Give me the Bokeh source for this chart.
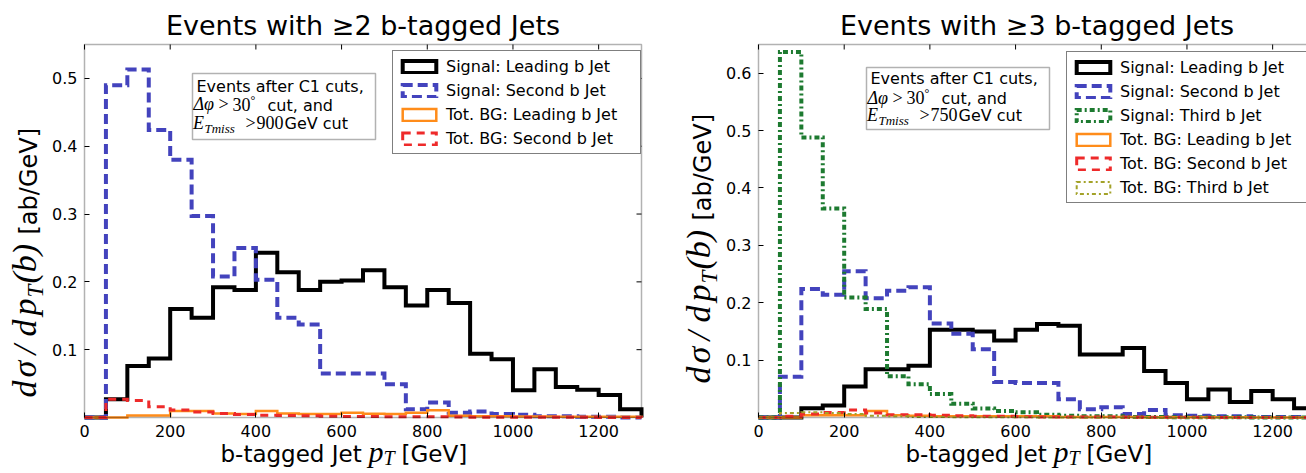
import numpy as np
from bokeh.embed import file_html
from bokeh.layouts import row
from bokeh.models import (BoxAnnotation, FixedTicker, Label, Legend, LegendItem,
                          LinearAxis, Range1d)
from bokeh.plotting import figure
from bokeh.resources import INLINE

# 50 GeV bins, 0 .. 1300 GeV
pt_edges = np.arange(0, 1301, 50)

# d(sigma)/d pT [ab/GeV] -- events with >= 2 b-tagged jets (E_Tmiss > 900 GeV)
sig_lead_2b = [0.0, 0.027, 0.076, 0.087, 0.160, 0.147, 0.192, 0.188, 0.243, 0.214,
               0.188, 0.200, 0.202, 0.217, 0.192, 0.165, 0.188, 0.169, 0.094, 0.086,
               0.040, 0.071, 0.045, 0.041, 0.033, 0.012]
sig_second_2b = [0.0, 0.490, 0.513, 0.424, 0.380, 0.297, 0.208, 0.250, 0.203, 0.147,
                 0.137, 0.065, 0.065, 0.065, 0.049, 0.012, 0.022, 0.007, 0.009, 0.005,
                 0.004, 0.002, 0.002, 0.001, 0.001, 0.0]
bg_lead_2b = [0.0, 0.0, 0.003, 0.003, 0.0096, 0.0096, 0.006, 0.005, 0.0096, 0.006,
              0.005, 0.005, 0.007, 0.0056, 0.005, 0.007, 0.0108, 0.0025, 0.002, 0.002,
              0.0015, 0.0015, 0.001, 0.001, 0.001, 0.001]
bg_second_2b = [0.0, 0.027, 0.025, 0.016, 0.011, 0.008, 0.006, 0.0045, 0.0035, 0.003,
                0.0025, 0.002, 0.0015, 0.0015, 0.001, 0.001, 0.001, 0.0008, 0.0005, 0.0005,
                0.0003, 0.0003, 0.0002, 0.0002, 0.0001, 0.0001]

# events with >= 3 b-tagged jets (E_Tmiss > 750 GeV)
sig_lead_3b = [0.0, 0.0, 0.016, 0.021, 0.054, 0.084, 0.084, 0.090, 0.153, 0.153,
               0.150, 0.134, 0.153, 0.163, 0.160, 0.110, 0.110, 0.121, 0.081, 0.060,
               0.032, 0.049, 0.027, 0.046, 0.032, 0.016]
sig_second_3b = [0.0, 0.071, 0.224, 0.214, 0.255, 0.208, 0.221, 0.227, 0.164, 0.146,
                 0.119, 0.062, 0.060, 0.060, 0.032, 0.0145, 0.018, 0.006, 0.013, 0.004,
                 0.003, 0.002, 0.002, 0.001, 0.001, 0.001]
sig_third_3b = [0.0, 0.637, 0.488, 0.364, 0.209, 0.189, 0.072, 0.058, 0.041, 0.024,
                0.0156, 0.0115, 0.009, 0.005, 0.003, 0.002, 0.002, 0.001, 0.001, 0.0005,
                0.0005, 0.0003, 0.0003, 0.0002, 0.0001, 0.0001]
bg_lead_3b = [0.0, 0.0, 0.004, 0.004, 0.004, 0.0115, 0.004, 0.003, 0.002, 0.002,
              0.002, 0.002, 0.002, 0.002, 0.001, 0.001, 0.001, 0.001, 0.0005, 0.0005,
              0.0005, 0.0003, 0.0003, 0.0002, 0.0002, 0.0001]
bg_second_3b = [0.0, 0.002, 0.006, 0.0085, 0.013, 0.008, 0.005, 0.005, 0.004, 0.003,
                0.002, 0.002, 0.0015, 0.001, 0.001, 0.001, 0.0008, 0.0005, 0.0005, 0.0003,
                0.0003, 0.0002, 0.0002, 0.0001, 0.0001, 0.0001]
bg_third_3b = [0.0, 0.008, 0.009, 0.008, 0.006, 0.003, 0.002, 0.001, 0.001, 0.0005,
               0.0005, 0.0003, 0.0003, 0.0002, 0.0002, 0.0001, 0.0001, 0.0001, 0.0, 0.0,
               0.0, 0.0, 0.0, 0.0, 0.0, 0.0]

x_ticks = [0, 200, 400, 600, 800, 1000, 1200]
y_ticks_2b = [0.1, 0.2, 0.3, 0.4, 0.5]
y_ticks_3b = [0.1, 0.2, 0.3, 0.4, 0.5, 0.6]
PT_MAX = 1300

SANS = "DejaVu Sans"
SERIF = "Liberation Serif"

# line styles: colour, width, dash
STYLE = {
    "sig_lead": ("#000000", 4, "solid"),
    "sig_second": ("#4343bd", 4, "10 5"),
    "sig_third": ("#1d7a30", 4, "5 3 2 3"),
    "bg_lead": ("#ff8c1a", 2.5, "solid"),
    "bg_second": ("#ee2a2a", 3, "8 6"),
    "bg_third": ("#a3a228", 2, "4 3 2 3"),
}

# page geometry (pixels): the axes box of each panel
FIG_H = 473
BOX_TOP, BOX_BOTTOM = 44, 417
BOX_W = 557
TICK = 5
# Label anchors sit a little above the drawn baseline; lift them by this many ems
BASELINE_LIFT = 0.37


def step_xy(edges, counts):
    xs = np.repeat(edges, 2)
    ys = np.concatenate([[0.0], np.repeat(np.asarray(counts, float), 2), [0.0]])
    return xs, ys


class Panel:
    """One histogram panel; the plot frame fills the whole figure and the axes
    box sits inside it, so every text can be placed without clipping."""

    def __init__(self, width, box_left, y_max, y_ticks, title):
        self.box_left = box_left
        kx = BOX_W / PT_MAX
        ky = (BOX_BOTTOM - BOX_TOP) / y_max
        p = figure(width=width, height=FIG_H,
                   x_range=Range1d(-box_left / kx, (width - box_left) / kx),
                   y_range=Range1d(-(FIG_H - BOX_BOTTOM) / ky, y_max + BOX_TOP / ky),
                   output_backend="svg", toolbar_location=None, min_border=0,
                   x_axis_location=None, y_axis_location=None, title_location=None,
                   outline_line_color=None, background_fill_color="white",
                   border_fill_color="white")
        p.grid.visible = False
        self.p = p

        for place, ticks in (("below", x_ticks), ("left", y_ticks)):
            ax = LinearAxis(fixed_location=0, ticker=FixedTicker(ticks=ticks))
            ax.axis_line_color = None
            ax.major_tick_in = TICK
            ax.major_tick_out = 0
            ax.major_tick_line_color = "black"
            ax.major_tick_line_width = 1
            ax.minor_tick_line_color = None
            ax.major_label_text_font = SANS
            ax.major_label_text_font_size = "16px"
            ax.major_label_text_color = "black"
            ax.major_label_standoff = 7
            p.add_layout(ax, place)

        # inward ticks on the top and right edges of the box
        ty, tx = TICK / ky, TICK / kx
        p.segment(x0=x_ticks, y0=[y_max] * len(x_ticks), x1=x_ticks,
                  y1=[y_max - ty] * len(x_ticks), line_color="black", line_width=1)
        p.segment(x0=[PT_MAX] * len(y_ticks), y0=y_ticks,
                  x1=[PT_MAX - tx] * len(y_ticks), y1=y_ticks,
                  line_color="black", line_width=1)
        # axes box
        p.add_layout(BoxAnnotation(left=0, right=PT_MAX, bottom=0, top=y_max,
                                   fill_color=None, fill_alpha=0,
                                   line_color="black", line_width=1.5, level="overlay"))
        self.label(BOX_W / 2, -9, title, SANS, 27, align="center")

    def label(self, dx, dy, text, font=SANS, size=16, style="normal", angle=0.0,
              align="left"):
        """Text at dx px right of the box's left edge, baseline dy px below its top."""
        x = self.box_left + dx
        y = FIG_H - BOX_TOP - dy
        if angle:
            x -= BASELINE_LIFT * size
        else:
            y += BASELINE_LIFT * size
        self.p.add_layout(Label(x=x, y=y, x_units="screen", y_units="screen", text=text,
                                text_font=font, text_font_size=f"{size}px",
                                text_font_style=style, text_color="black",
                                text_align=align, text_baseline="alphabetic",
                                angle=angle))

    def hists(self, series):
        for counts, key in series:
            color, w, dash = STYLE[key]
            xs, ys = step_xy(pt_edges, counts)
            self.p.line(xs, ys, line_color=color, line_width=w, line_dash=dash,
                        line_join="miter")

    def legend(self, entries, left, top, rows):
        items = []
        for text, key in entries:
            color, w, dash = STYLE[key]
            # a single NaN quad: draws nothing on the axes, only the legend swatch
            proxy = self.p.quad(left=[np.nan], right=[np.nan], top=[np.nan],
                                bottom=[np.nan], fill_color=None, line_color=color,
                                line_width=w, line_dash=dash, line_join="miter")
            items.append(LegendItem(label=text, renderers=[proxy]))
        height = 10 + 20 * rows + 4 * (rows - 1)
        lg = Legend(items=items,
                    location=(self.box_left + left, FIG_H - BOX_TOP - top - height),
                    padding=5, spacing=4, label_height=20, label_width=189,
                    glyph_width=42, glyph_height=15, label_standoff=6,
                    label_text_font=SANS, label_text_font_size="16px",
                    label_text_color="black", border_line_color="black",
                    border_line_width=1.5, background_fill_color="white",
                    background_fill_alpha=1.0, margin=0)
        self.p.add_layout(lg)

    def note(self, top, height, met_cut, baselines):
        y_top = FIG_H - BOX_TOP - top
        self.p.add_layout(BoxAnnotation(left=self.box_left + 108, right=self.box_left + 291,
                                        top=y_top, bottom=y_top - height,
                                        left_units="screen", right_units="screen",
                                        top_units="screen", bottom_units="screen",
                                        fill_color="white", fill_alpha=1.0,
                                        line_color="black", line_width=1.5))
        b1, b2, b3 = (top + b for b in baselines)
        L = self.label
        L(112, b1, "Events after C1 cuts,")
        L(109, b2, "Δφ", SERIF, 18, "italic")
        L(134, b2, ">", SERIF, 18)
        L(148, b2, "30", SERIF, 18)
        L(166, b2 - 7, "°", SERIF, 12)
        L(183, b2, "cut, and")
        L(108.5, b3, "E", SERIF, 18, "italic")
        L(120, b3 + 4, "Tmiss", SERIF, 13, "italic")
        L(161, b3, ">", SERIF, 18)
        L(172, b3, met_cut, SERIF, 18)
        L(200, b3, "GeV cut")

    def axis_titles(self, x_start, y_shift):
        L = self.label
        # x: "b-tagged Jet p_T [GeV]"
        base = 462 - BOX_TOP
        L(x_start, base, "b-tagged Jet", SANS, 23)
        L(x_start + 148, base, "p", SERIF, 30, "italic")
        L(x_start + 163, base + 3, "T", SERIF, 20, "italic")
        L(x_start + 181, base, "[GeV]", SANS, 23)
        # y: "d sigma / d p_T(b) [ab/GeV]", read bottom to top
        ang = np.pi / 2
        bx = -47
        for txt, page_y in (("d", 397), ("σ", 377), ("/", 354), ("d", 336), ("p", 315)):
            L(bx, page_y - BOX_TOP - y_shift, txt, SERIF, 34, "italic", ang)
        L(bx + 7, 297 - BOX_TOP - y_shift, "T", SERIF, 23, "italic", ang)
        L(bx, 283 - BOX_TOP - y_shift, "(b)", SERIF, 34, "italic", ang)
        L(bx, 234 - BOX_TOP - y_shift, "[ab/GeV]", SANS, 24, angle=ang)


# left: >= 2 b-tags (axes box from x = 84 to 641)
left = Panel(660, 84, 0.55, y_ticks_2b, "Events with ≥2 b-tagged Jets")
left.hists([(sig_lead_2b, "sig_lead"), (sig_second_2b, "sig_second"),
            (bg_lead_2b, "bg_lead"), (bg_second_2b, "bg_second")])
left.note(29, 66, "900", (19, 37.5, 56))
left.legend([("Signal: Leading b Jet", "sig_lead"),
             ("Signal: Second b Jet", "sig_second"),
             ("Tot. BG: Leading b Jet", "bg_lead"),
             ("Tot. BG: Second b Jet", "bg_second")], 308, 8, 4)
left.axis_titles(136, 0)

# right: >= 3 b-tags (axes box starts at x = 758 and runs past the window edge)
right = Panel(646, 98, 0.65, y_ticks_3b, "Events with ≥3 b-tagged Jets")
right.hists([(sig_lead_3b, "sig_lead"), (sig_second_3b, "sig_second"),
             (sig_third_3b, "sig_third"), (bg_lead_3b, "bg_lead"),
             (bg_second_3b, "bg_second"), (bg_third_3b, "bg_third")])
right.note(23, 62, "750", (17, 37, 54))
right.legend([("Signal: Leading b Jet", "sig_lead"),
              ("Signal: Second b Jet", "sig_second"),
              ("Signal: Third b Jet", "sig_third"),
              ("Tot. BG: Leading b Jet", "bg_lead"),
              ("Tot. BG: Second b Jet", "bg_second"),
              ("Tot. BG: Third b Jet", "bg_third")], 308, 9, 6)
right.axis_titles(147, 14)

layout = row(left.p, right.p, spacing=0)
open("out.html", "w").write(file_html(layout, INLINE))
